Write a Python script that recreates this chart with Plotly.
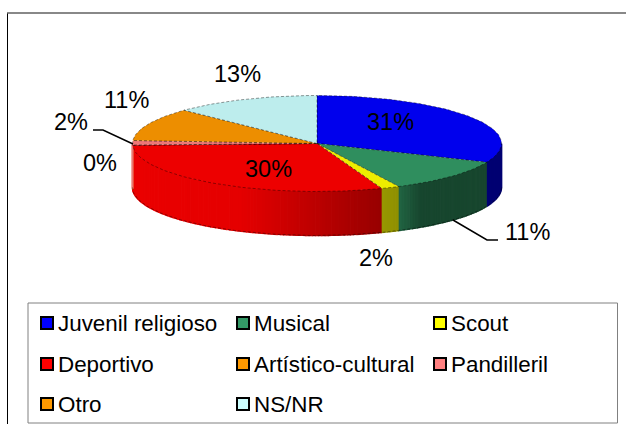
import numpy as np
import plotly.graph_objects as go

categories = ["Juvenil religioso", "Musical", "Scout", "Deportivo",
              "Artístico-cultural", "Pandilleril", "Otro", "NS/NR"]
shares = [31.4, 11.3, 1.6, 30.1, 0.1, 1.5, 11.2, 12.8]
legend_colors = ["#0000FF", "#339966", "#FFFF00", "#FF0000",
                 "#FF9900", "#FF8080", "#FF9900", "#CCFFFF"]

# pie geometry, in page pixels
CX, CY, RX, RY, DEPTH = 317, 143.5, 184.5, 48, 44
W, H = 626, 424
FONT = "Liberation Sans, Arial, sans-serif"

# label centre per slice
label_xy = [(390, 122), (527, 232), (376, 258), (268, 169),
            (100, 163), (71, 122), (126, 100), (237, 74)]


def rgb(hex_color, k=1.0):
    return "rgb(%d,%d,%d)" % tuple(int(int(hex_color[i:i + 2], 16) * k) for i in (1, 3, 5))


def rim(deg):
    # clockwise from 12 o'clock
    t = np.radians(deg)
    return CX + RX * np.sin(t), CY - RY * np.cos(t)


def wall_shade(x, i):
    # side walls get darker towards the right, the way the old 3D pies do
    if i == 0:
        return 0.45
    if i == 1:
        return float(np.interp(x, [400, 420, 490], [0.65, 0.46, 0.46]))
    return float(np.interp(x, [130, 240, 380, 400], [0.92, 0.9, 0.6, 0.56]))


fig = go.Figure()

edges = np.cumsum([0] + shares) * 3.6
DASHED = dict(color="rgba(0,0,0,0.4)", width=1, dash="3px,2px")

# side walls, only the front half shows
for i, col in enumerate(legend_colors):
    a0, a1 = max(edges[i], 90), min(edges[i + 1], 270)
    if a1 <= a0:
        continue
    steps = np.linspace(a0, a1, max(2, int(a1 - a0) + 2))
    for s0, s1 in zip(steps[:-1], steps[1:]):
        ang = np.linspace(s0, s1, 3)
        xs, ys = rim(ang)
        c = rgb(col, wall_shade(xs.mean(), i))
        fig.add_trace(go.Scatter(
            x=np.r_[xs, xs[::-1]], y=np.r_[ys, ys[::-1] + DEPTH],
            mode="lines", fill="toself", fillcolor=c, line=dict(color=c, width=1.5),
            hoverinfo="skip", showlegend=False))

# lower edge of the wall
xs, ys = rim(np.linspace(90, 270, 120))
fig.add_trace(go.Scatter(x=xs, y=ys + DEPTH, mode="lines", line=DASHED,
                         hoverinfo="skip", showlegend=False))

# top of the pie
for i, col in enumerate(legend_colors):
    ang = np.linspace(edges[i], edges[i + 1], max(3, int(shares[i] * 3)))
    xs, ys = rim(ang)
    fig.add_trace(go.Scatter(
        x=np.r_[CX, xs, CX], y=np.r_[CY, ys, CY],
        mode="lines", fill="toself", fillcolor=rgb(col, 0.93), line=DASHED,
        name=categories[i], text=["%s: %d%%" % (categories[i], round(shares[i]))] * (len(xs) + 2),
        hoverinfo="text", showlegend=False))

# legend, drawn by hand because the rows are wider apart than plotly's own
col_x = [47, 243, 440]
row_y = [323, 364, 404]
for i, name in enumerate(categories):
    fig.add_trace(go.Scatter(
        x=[col_x[i % 3]], y=[row_y[i // 3]], mode="markers",
        marker=dict(symbol="square", size=12, color=legend_colors[i],
                    line=dict(color="black", width=2)),
        hoverinfo="skip", showlegend=False))
    fig.add_annotation(x=col_x[i % 3] + 11, y=row_y[i // 3], text=name, showarrow=False,
                       xanchor="left", yanchor="middle", xshift=-2,
                       font=dict(family=FONT, size=22.4, color="black"))

for v, (lx, ly) in zip(shares, label_xy):
    fig.add_annotation(x=lx, y=ly, text="%d%%" % round(v), showarrow=False,
                       xanchor="center", yanchor="middle",
                       font=dict(family=FONT, size=23.5, color="black"))

# leader lines
for lx, ly in ([93, 103, 133], [130, 130, 144]), ([453, 487, 498], [220, 240, 240]):
    fig.add_trace(go.Scatter(x=lx, y=ly, mode="lines", line=dict(color="black", width=1.5),
                             hoverinfo="skip", showlegend=False))

fig.update_layout(
    width=W, height=H,
    margin=dict(l=0, r=0, t=0, b=0),
    paper_bgcolor="white", plot_bgcolor="white",
    xaxis=dict(range=[0, W], visible=False, fixedrange=True),
    yaxis=dict(range=[H, 0], visible=False, fixedrange=True),
    shapes=[
        # outer frame only shows on the left and the top
        dict(type="line", x0=7.5, y0=13, x1=7.5, y1=H, line=dict(color="black", width=1)),
        dict(type="line", x0=7, y0=13, x1=W, y1=13, line=dict(color="#606060", width=1.5)),
        dict(type="rect", x0=28, y0=303, x1=617.5, y1=423, line=dict(color="#808080", width=1)),
    ],
)

# the browser's default body margin would push everything 8px off
fig.write_html("out.html", config=dict(displayModeBar=False),
               post_script="document.body.style.margin='0';document.body.style.overflow='hidden';")
